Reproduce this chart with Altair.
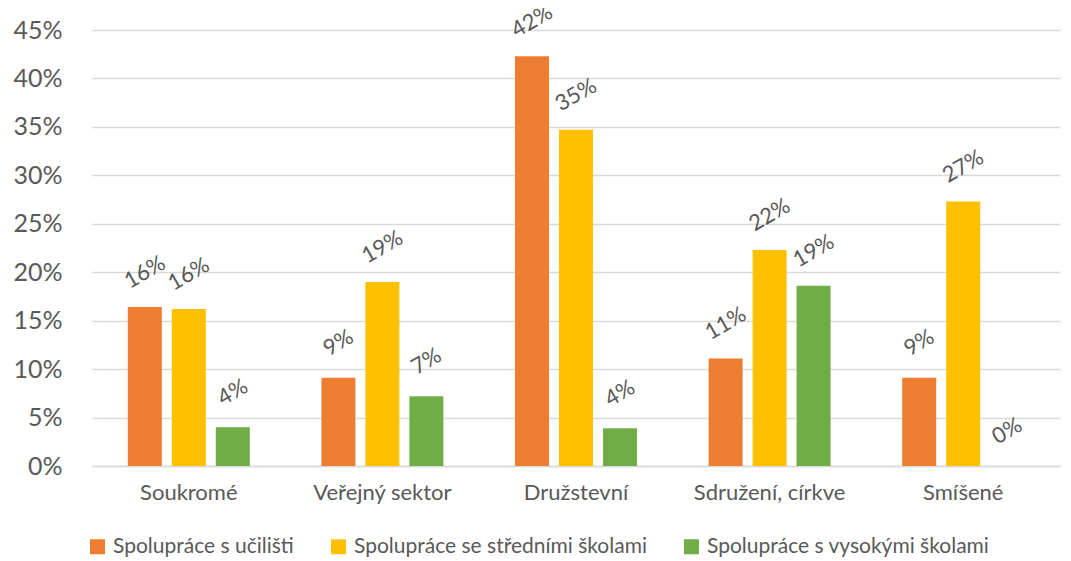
import altair as alt
import pandas as pd

categories = ["Soukromé", "Veřejný sektor", "Družstevní", "Sdružení, církve", "Smíšené"]
series = ["Spolupráce s učilišti", "Spolupráce se středními školami", "Spolupráce s vysokými školami"]
ucilisti = [0.164, 0.091, 0.423, 0.111, 0.091]
stredni = [0.162, 0.190, 0.347, 0.223, 0.273]
vysoke = [0.040, 0.072, 0.039, 0.186, 0.0]
colors = ["#ED7D31", "#FFC000", "#70AD47"]
y_ticks = [0, 0.05, 0.10, 0.15, 0.20, 0.25, 0.30, 0.35, 0.40, 0.45]

rows = []
for i, c in enumerate(categories):
    for s, vals in zip(series, [ucilisti, stredni, vysoke]):
        rows.append({"kategorie": c, "serie": s, "hodnota": vals[i]})
df = pd.DataFrame(rows)

font = "Lato"
text_color = "#595959"

base = alt.Chart(df).encode(
    x=alt.X("kategorie:N", sort=categories,
            scale=alt.Scale(paddingInner=0.37, paddingOuter=0.185),
            axis=alt.Axis(title=None, labelAngle=0, ticks=False, domainColor="#D9D9D9",
                          domainWidth=1.5, labelColor=text_color, labelFontSize=22,
                          labelFont=font, labelPadding=16)),
    xOffset=alt.XOffset("serie:N", sort=series,
                        scale=alt.Scale(paddingInner=0.227, paddingOuter=0)),
    y=alt.Y("hodnota:Q", scale=alt.Scale(domain=[0, 0.45], nice=False),
            axis=alt.Axis(title=None, values=y_ticks, format=".0%", domain=False, ticks=False,
                          gridColor="#D9D9D9", gridWidth=1.5, labelColor=text_color,
                          labelFontSize=25, labelFont=font, labelPadding=30)),
)

bars = base.mark_bar().encode(
    color=alt.Color("serie:N", sort=series,
                    scale=alt.Scale(domain=series, range=colors),
                    legend=alt.Legend(title=None, orient="none", direction="horizontal",
                                      legendX=-5, legendY=506, symbolType="square",
                                      symbolSize=225, symbolStrokeWidth=0,
                                      labelFontSize=21, labelFont=font, labelColor=text_color,
                                      labelLimit=500, columnPadding=34, labelOffset=5))
)

labels = base.mark_text(angle=330, dx=17.5, dy=-30.3, fontSize=22, font=font, color=text_color,
                        align="center", baseline="middle").encode(
    text=alt.Text("hodnota:Q", format=".0%")
)

chart = (bars + labels).properties(
    width=968, height=436,
    padding={"left": 84, "top": 22, "right": 3, "bottom": 94},
    autosize=alt.AutoSizeParams(type="none"),
).configure_view(stroke=None)

chart.save("out.html", embed_options={"renderer": "svg", "actions": False})
